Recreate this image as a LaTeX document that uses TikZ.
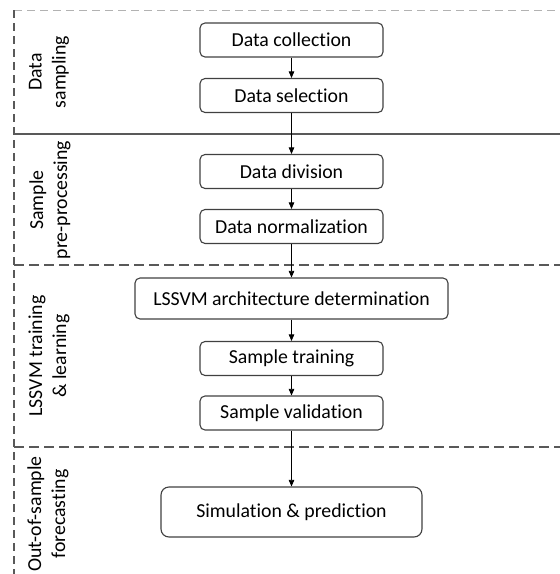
\documentclass[tikz,border=0pt]{standalone}
\usepackage{fontspec}
\setmainfont{Carlito}[Ligatures=NoCommon]
\usetikzlibrary{arrows.meta}
\begin{document}
\begin{tikzpicture}[x=1pt,y=-1pt,
	box/.style={draw=black!75, line width=1.1pt, rounded corners=5pt, minimum height=34pt, minimum width=183pt, inner sep=0pt, font=\fontsize{19.8}{22}\selectfont},
	lab/.style={rotate=90, align=center, inner sep=0pt, font=\fontsize{19.8}{24}\selectfont},
	sep/.style={draw=black!65, line width=1.3pt},
	arr/.style={-{Triangle[width=5.5pt,length=6.5pt]}, line width=0.6pt}]
	\useasboundingbox (0,0) rectangle (560,574);
	% frame and section lines
	\path (14,10) coordinate (TL) + (546,0) coordinate (TR)
	(14,574) coordinate (BL)
	(14,134) coordinate (S1) + (546,0) coordinate (S1r)
	(14,265) coordinate (S2) + (546,0) coordinate (S2r)
	(14,447) coordinate (S3) + (546,0) coordinate (S3r);
	\draw[black!30, line width=0.8pt, dash pattern=on 8pt off 5pt] (TL) -- (TR);
	\draw[sep, dash pattern=on 8pt off 5pt] (TL) -- (BL);
	\draw[sep] (S1) -- (S1r);
	\draw[sep, dash pattern=on 10pt off 5pt] (S2) -- (S2r);
	\draw[sep, dash pattern=on 10pt off 5pt] (S3) -- (S3r);
	% steps
	\node[box] (coll) at (291.5,40) {Data collection};
	\node[box] (sel) at (291.5,95.5) {Data selection};
	\node[box] (div) at (291.5,171.5) {Data division};
	\node[box] (norm) at (291.5,226.5) {Data normalization};
	\node[box, minimum width=313pt, minimum height=41pt] (arch) at (291.5,298.5) {LSSVM architecture determination};
	\node[box] (train) at (291.5,358.5) {Sample training};
	\node[box] (valid) at (291.5,413) {Sample validation};
	\node[box, minimum width=261pt, minimum height=50pt, rounded corners=8pt] (sim) at (291.5,512) {Simulation \& prediction};
	\draw[arr] (coll) -- (sel);
	\draw[arr] (sel) -- (div);
	\draw[arr] (div) -- (norm);
	\draw[arr] (norm) -- (arch);
	\draw[arr] (arch) -- (train);
	\draw[arr] (train) -- (valid);
	\draw[arr] (valid) -- (sim);
	% section labels
	\node[lab] (samp) at (49,72) {Data\\sampling};
	\node[lab] (prep) at (50,200) {Sample\\pre-processing};
	\node[lab] (learn) at (49,356) {LSSVM training\\\& learning};
	\node[lab] (fore) at (48,514) {Out-of-sample\\forecasting};
\end{tikzpicture}
\end{document}
